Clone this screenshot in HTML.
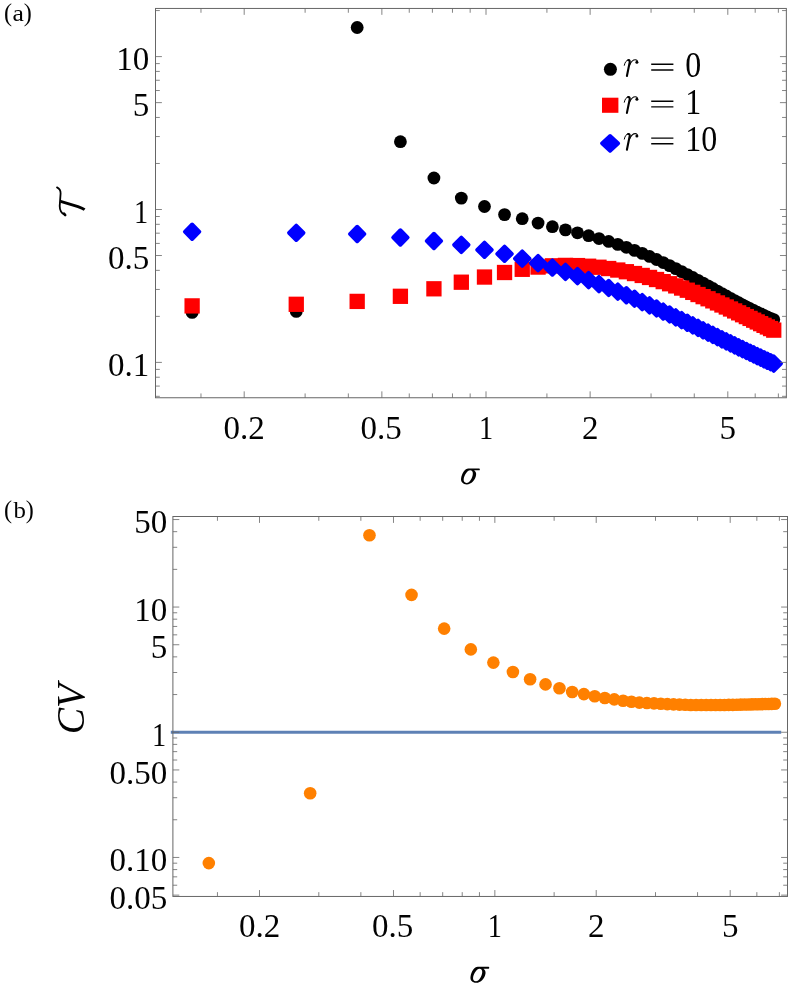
<!DOCTYPE html>
<html><head><meta charset="utf-8"><title>chart</title>
<style>html,body{margin:0;padding:0;background:#fff;overflow:hidden}svg{display:block;position:absolute;left:0;top:0}</style></head>
<body>
<svg width="789" height="992" viewBox="0 0 789 992">
<rect width="789" height="992" fill="#fff"/>
<g fill="#000">
<circle cx="192.12" cy="312.40" r="6.4"/>
<circle cx="296.26" cy="311.40" r="6.4"/>
<circle cx="357.18" cy="27.50" r="6.4"/>
<circle cx="400.40" cy="141.70" r="6.4"/>
<circle cx="433.93" cy="178.00" r="6.4"/>
<circle cx="461.32" cy="198.10" r="6.4"/>
<circle cx="484.48" cy="206.50" r="6.4"/>
<circle cx="504.54" cy="214.60" r="6.4"/>
<circle cx="522.24" cy="218.70" r="6.4"/>
<circle cx="538.07" cy="223.09" r="6.4"/>
<circle cx="552.39" cy="226.72" r="6.4"/>
<circle cx="565.46" cy="229.88" r="6.4"/>
<circle cx="577.49" cy="232.82" r="6.4"/>
<circle cx="588.62" cy="235.69" r="6.4"/>
<circle cx="598.99" cy="238.55" r="6.4"/>
<circle cx="608.69" cy="241.43" r="6.4"/>
<circle cx="617.79" cy="244.36" r="6.4"/>
<circle cx="626.38" cy="247.33" r="6.4"/>
<circle cx="634.51" cy="250.35" r="6.4"/>
<circle cx="642.21" cy="253.39" r="6.4"/>
<circle cx="649.54" cy="256.45" r="6.4"/>
<circle cx="656.53" cy="259.52" r="6.4"/>
<circle cx="663.21" cy="262.58" r="6.4"/>
<circle cx="669.60" cy="265.63" r="6.4"/>
<circle cx="675.74" cy="268.65" r="6.4"/>
<circle cx="681.63" cy="271.64" r="6.4"/>
<circle cx="687.30" cy="274.59" r="6.4"/>
<circle cx="692.76" cy="277.49" r="6.4"/>
<circle cx="698.04" cy="280.33" r="6.4"/>
<circle cx="703.13" cy="283.11" r="6.4"/>
<circle cx="708.06" cy="285.82" r="6.4"/>
<circle cx="712.83" cy="288.47" r="6.4"/>
<circle cx="717.45" cy="291.04" r="6.4"/>
<circle cx="721.94" cy="293.53" r="6.4"/>
<circle cx="726.29" cy="295.95" r="6.4"/>
<circle cx="730.52" cy="298.28" r="6.4"/>
<circle cx="734.64" cy="300.53" r="6.4"/>
<circle cx="738.65" cy="302.70" r="6.4"/>
<circle cx="742.55" cy="304.78" r="6.4"/>
<circle cx="746.35" cy="306.78" r="6.4"/>
<circle cx="750.06" cy="308.69" r="6.4"/>
<circle cx="753.68" cy="310.51" r="6.4"/>
<circle cx="757.22" cy="312.24" r="6.4"/>
<circle cx="760.67" cy="313.89" r="6.4"/>
<circle cx="764.05" cy="315.45" r="6.4"/>
<circle cx="767.35" cy="316.93" r="6.4"/>
<circle cx="770.58" cy="318.32" r="6.4"/>
<circle cx="773.75" cy="319.62" r="6.4"/>
</g><g fill="#f00">
<rect x="184.47" y="298.25" width="15.3" height="15.3"/>
<rect x="288.61" y="296.65" width="15.3" height="15.3"/>
<rect x="349.53" y="293.75" width="15.3" height="15.3"/>
<rect x="392.75" y="288.65" width="15.3" height="15.3"/>
<rect x="426.28" y="281.15" width="15.3" height="15.3"/>
<rect x="453.67" y="274.55" width="15.3" height="15.3"/>
<rect x="476.83" y="269.40" width="15.3" height="15.3"/>
<rect x="496.89" y="264.85" width="15.3" height="15.3"/>
<rect x="514.59" y="261.65" width="15.3" height="15.3"/>
<rect x="530.42" y="259.42" width="15.3" height="15.3"/>
<rect x="544.74" y="258.18" width="15.3" height="15.3"/>
<rect x="557.81" y="257.75" width="15.3" height="15.3"/>
<rect x="569.84" y="257.93" width="15.3" height="15.3"/>
<rect x="580.97" y="258.58" width="15.3" height="15.3"/>
<rect x="591.34" y="259.59" width="15.3" height="15.3"/>
<rect x="601.04" y="260.88" width="15.3" height="15.3"/>
<rect x="610.14" y="262.39" width="15.3" height="15.3"/>
<rect x="618.73" y="264.07" width="15.3" height="15.3"/>
<rect x="626.86" y="265.89" width="15.3" height="15.3"/>
<rect x="634.56" y="267.81" width="15.3" height="15.3"/>
<rect x="641.89" y="269.80" width="15.3" height="15.3"/>
<rect x="648.88" y="271.86" width="15.3" height="15.3"/>
<rect x="655.56" y="273.96" width="15.3" height="15.3"/>
<rect x="661.95" y="276.09" width="15.3" height="15.3"/>
<rect x="668.09" y="278.24" width="15.3" height="15.3"/>
<rect x="673.98" y="280.40" width="15.3" height="15.3"/>
<rect x="679.65" y="282.56" width="15.3" height="15.3"/>
<rect x="685.11" y="284.72" width="15.3" height="15.3"/>
<rect x="690.39" y="286.87" width="15.3" height="15.3"/>
<rect x="695.48" y="289.00" width="15.3" height="15.3"/>
<rect x="700.41" y="291.11" width="15.3" height="15.3"/>
<rect x="705.18" y="293.21" width="15.3" height="15.3"/>
<rect x="709.80" y="295.28" width="15.3" height="15.3"/>
<rect x="714.29" y="297.32" width="15.3" height="15.3"/>
<rect x="718.64" y="299.33" width="15.3" height="15.3"/>
<rect x="722.87" y="301.32" width="15.3" height="15.3"/>
<rect x="726.99" y="303.27" width="15.3" height="15.3"/>
<rect x="731.00" y="305.19" width="15.3" height="15.3"/>
<rect x="734.90" y="307.08" width="15.3" height="15.3"/>
<rect x="738.70" y="308.93" width="15.3" height="15.3"/>
<rect x="742.41" y="310.75" width="15.3" height="15.3"/>
<rect x="746.03" y="312.54" width="15.3" height="15.3"/>
<rect x="749.57" y="314.29" width="15.3" height="15.3"/>
<rect x="753.02" y="316.00" width="15.3" height="15.3"/>
<rect x="756.40" y="317.68" width="15.3" height="15.3"/>
<rect x="759.70" y="319.32" width="15.3" height="15.3"/>
<rect x="762.93" y="320.92" width="15.3" height="15.3"/>
<rect x="766.10" y="322.49" width="15.3" height="15.3"/>
</g><g fill="#00f" stroke="#00f" stroke-width="3.8" stroke-linejoin="round">
<path d="M192.12 224.45l7.3 7.3l-7.3 7.3l-7.3 -7.3z"/>
<path d="M296.26 225.50l7.3 7.3l-7.3 7.3l-7.3 -7.3z"/>
<path d="M357.18 226.70l7.3 7.3l-7.3 7.3l-7.3 -7.3z"/>
<path d="M400.40 230.20l7.3 7.3l-7.3 7.3l-7.3 -7.3z"/>
<path d="M433.93 233.70l7.3 7.3l-7.3 7.3l-7.3 -7.3z"/>
<path d="M461.32 237.60l7.3 7.3l-7.3 7.3l-7.3 -7.3z"/>
<path d="M484.48 242.50l7.3 7.3l-7.3 7.3l-7.3 -7.3z"/>
<path d="M504.54 246.50l7.3 7.3l-7.3 7.3l-7.3 -7.3z"/>
<path d="M522.24 251.30l7.3 7.3l-7.3 7.3l-7.3 -7.3z"/>
<path d="M538.07 255.78l7.3 7.3l-7.3 7.3l-7.3 -7.3z"/>
<path d="M552.39 260.25l7.3 7.3l-7.3 7.3l-7.3 -7.3z"/>
<path d="M565.46 264.59l7.3 7.3l-7.3 7.3l-7.3 -7.3z"/>
<path d="M577.49 268.80l7.3 7.3l-7.3 7.3l-7.3 -7.3z"/>
<path d="M588.62 272.88l7.3 7.3l-7.3 7.3l-7.3 -7.3z"/>
<path d="M598.99 276.84l7.3 7.3l-7.3 7.3l-7.3 -7.3z"/>
<path d="M608.69 280.67l7.3 7.3l-7.3 7.3l-7.3 -7.3z"/>
<path d="M617.79 284.38l7.3 7.3l-7.3 7.3l-7.3 -7.3z"/>
<path d="M626.38 287.96l7.3 7.3l-7.3 7.3l-7.3 -7.3z"/>
<path d="M634.51 291.43l7.3 7.3l-7.3 7.3l-7.3 -7.3z"/>
<path d="M642.21 294.79l7.3 7.3l-7.3 7.3l-7.3 -7.3z"/>
<path d="M649.54 298.04l7.3 7.3l-7.3 7.3l-7.3 -7.3z"/>
<path d="M656.53 301.18l7.3 7.3l-7.3 7.3l-7.3 -7.3z"/>
<path d="M663.21 304.22l7.3 7.3l-7.3 7.3l-7.3 -7.3z"/>
<path d="M669.60 307.17l7.3 7.3l-7.3 7.3l-7.3 -7.3z"/>
<path d="M675.74 310.02l7.3 7.3l-7.3 7.3l-7.3 -7.3z"/>
<path d="M681.63 312.78l7.3 7.3l-7.3 7.3l-7.3 -7.3z"/>
<path d="M687.30 315.46l7.3 7.3l-7.3 7.3l-7.3 -7.3z"/>
<path d="M692.76 318.05l7.3 7.3l-7.3 7.3l-7.3 -7.3z"/>
<path d="M698.04 320.56l7.3 7.3l-7.3 7.3l-7.3 -7.3z"/>
<path d="M703.13 322.99l7.3 7.3l-7.3 7.3l-7.3 -7.3z"/>
<path d="M708.06 325.35l7.3 7.3l-7.3 7.3l-7.3 -7.3z"/>
<path d="M712.83 327.64l7.3 7.3l-7.3 7.3l-7.3 -7.3z"/>
<path d="M717.45 329.86l7.3 7.3l-7.3 7.3l-7.3 -7.3z"/>
<path d="M721.94 332.02l7.3 7.3l-7.3 7.3l-7.3 -7.3z"/>
<path d="M726.29 334.11l7.3 7.3l-7.3 7.3l-7.3 -7.3z"/>
<path d="M730.52 336.14l7.3 7.3l-7.3 7.3l-7.3 -7.3z"/>
<path d="M734.64 338.11l7.3 7.3l-7.3 7.3l-7.3 -7.3z"/>
<path d="M738.65 340.02l7.3 7.3l-7.3 7.3l-7.3 -7.3z"/>
<path d="M742.55 341.87l7.3 7.3l-7.3 7.3l-7.3 -7.3z"/>
<path d="M746.35 343.68l7.3 7.3l-7.3 7.3l-7.3 -7.3z"/>
<path d="M750.06 345.43l7.3 7.3l-7.3 7.3l-7.3 -7.3z"/>
<path d="M753.68 347.13l7.3 7.3l-7.3 7.3l-7.3 -7.3z"/>
<path d="M757.22 348.78l7.3 7.3l-7.3 7.3l-7.3 -7.3z"/>
<path d="M760.67 350.38l7.3 7.3l-7.3 7.3l-7.3 -7.3z"/>
<path d="M764.05 351.94l7.3 7.3l-7.3 7.3l-7.3 -7.3z"/>
<path d="M767.35 353.46l7.3 7.3l-7.3 7.3l-7.3 -7.3z"/>
<path d="M770.58 354.93l7.3 7.3l-7.3 7.3l-7.3 -7.3z"/>
<path d="M773.75 356.36l7.3 7.3l-7.3 7.3l-7.3 -7.3z"/>
</g>
<path d="M170.8 732.25H781.2" stroke="#5e81b5" stroke-width="3.2" fill="none"/>
<g fill="#ff8000">
<circle cx="208.83" cy="863.10" r="6.3"/>
<circle cx="310.18" cy="793.20" r="6.3"/>
<circle cx="369.47" cy="535.30" r="6.3"/>
<circle cx="411.54" cy="594.90" r="6.3"/>
<circle cx="444.17" cy="628.60" r="6.3"/>
<circle cx="470.83" cy="649.40" r="6.3"/>
<circle cx="493.37" cy="662.60" r="6.3"/>
<circle cx="512.90" cy="672.05" r="6.3"/>
<circle cx="530.12" cy="679.25" r="6.3"/>
<circle cx="545.53" cy="684.40" r="6.3"/>
<circle cx="559.46" cy="688.30" r="6.3"/>
<circle cx="572.19" cy="692.00" r="6.3"/>
<circle cx="583.89" cy="694.10" r="6.3"/>
<circle cx="594.73" cy="696.20" r="6.3"/>
<circle cx="604.82" cy="698.00" r="6.3"/>
<circle cx="614.26" cy="699.40" r="6.3"/>
<circle cx="623.12" cy="700.70" r="6.3"/>
<circle cx="631.48" cy="701.70" r="6.3"/>
<circle cx="639.38" cy="702.60" r="6.3"/>
<circle cx="646.88" cy="703.00" r="6.3"/>
<circle cx="654.02" cy="703.40" r="6.3"/>
<circle cx="660.82" cy="703.80" r="6.3"/>
<circle cx="667.32" cy="704.10" r="6.3"/>
<circle cx="673.55" cy="704.40" r="6.3"/>
<circle cx="679.51" cy="704.60" r="6.3"/>
<circle cx="685.25" cy="704.80" r="6.3"/>
<circle cx="690.77" cy="705.00" r="6.3"/>
<circle cx="696.09" cy="705.00" r="6.3"/>
<circle cx="701.22" cy="705.00" r="6.3"/>
<circle cx="706.17" cy="705.00" r="6.3"/>
<circle cx="710.97" cy="705.00" r="6.3"/>
<circle cx="715.61" cy="705.00" r="6.3"/>
<circle cx="720.11" cy="705.00" r="6.3"/>
<circle cx="724.48" cy="705.00" r="6.3"/>
<circle cx="728.72" cy="704.91" r="6.3"/>
<circle cx="732.84" cy="704.83" r="6.3"/>
<circle cx="736.84" cy="704.74" r="6.3"/>
<circle cx="740.74" cy="704.66" r="6.3"/>
<circle cx="744.54" cy="704.57" r="6.3"/>
<circle cx="748.24" cy="704.49" r="6.3"/>
<circle cx="751.85" cy="704.40" r="6.3"/>
<circle cx="755.38" cy="704.31" r="6.3"/>
<circle cx="758.82" cy="704.23" r="6.3"/>
<circle cx="762.18" cy="704.14" r="6.3"/>
<circle cx="765.46" cy="704.06" r="6.3"/>
<circle cx="768.68" cy="703.97" r="6.3"/>
<circle cx="771.82" cy="703.89" r="6.3"/>
<circle cx="774.90" cy="703.80" r="6.3"/>
</g>
<path d="M244.19 397.75v-6.4M244.19 8.45v6.4M381.86 397.75v-6.4M381.86 8.45v6.4M486.00 397.75v-6.4M486.00 8.45v6.4M590.14 397.75v-6.4M590.14 8.45v6.4M727.81 397.75v-6.4M727.81 8.45v6.4M200.97 397.75v-4.3M200.97 8.45v4.3M305.11 397.75v-4.3M305.11 8.45v4.3M348.33 397.75v-4.3M348.33 8.45v4.3M409.25 397.75v-4.3M409.25 8.45v4.3M432.41 397.75v-4.3M432.41 8.45v4.3M452.47 397.75v-4.3M452.47 8.45v4.3M470.17 397.75v-4.3M470.17 8.45v4.3M546.92 397.75v-4.3M546.92 8.45v4.3M651.06 397.75v-4.3M651.06 8.45v4.3M694.28 397.75v-4.3M694.28 8.45v4.3M755.20 397.75v-4.3M755.20 8.45v4.3M778.36 397.75v-4.3M778.36 8.45v4.3M155.50 362.40h6.4M786.35 362.40h-6.4M155.50 255.53h6.4M786.35 255.53h-6.4M155.50 209.50h6.4M786.35 209.50h-6.4M155.50 102.63h6.4M786.35 102.63h-6.4M155.50 56.60h6.4M786.35 56.60h-6.4M155.50 396.32h4.3M786.35 396.32h-4.3M155.50 386.08h4.3M786.35 386.08h-4.3M155.50 377.22h4.3M786.35 377.22h-4.3M155.50 369.40h4.3M786.35 369.40h-4.3M155.50 316.37h4.3M786.35 316.37h-4.3M155.50 289.45h4.3M786.35 289.45h-4.3M155.50 270.35h4.3M786.35 270.35h-4.3M155.50 243.42h4.3M786.35 243.42h-4.3M155.50 233.18h4.3M786.35 233.18h-4.3M155.50 224.32h4.3M786.35 224.32h-4.3M155.50 216.50h4.3M786.35 216.50h-4.3M155.50 163.47h4.3M786.35 163.47h-4.3M155.50 136.55h4.3M786.35 136.55h-4.3M155.50 117.45h4.3M786.35 117.45h-4.3M155.50 90.52h4.3M786.35 90.52h-4.3M155.50 80.28h4.3M786.35 80.28h-4.3M155.50 71.42h4.3M786.35 71.42h-4.3M155.50 63.60h4.3M786.35 63.60h-4.3M155.50 10.57h4.3M786.35 10.57h-4.3" stroke="#666" stroke-width="0.8" fill="none"/>
<rect x="155.5" y="8.45" width="630.85" height="389.30" fill="none" stroke="#666" stroke-width="1"/>
<path d="M259.51 896.45v-6.4M259.51 516.50v6.4M393.49 896.45v-6.4M393.49 516.50v6.4M494.85 896.45v-6.4M494.85 516.50v6.4M596.21 896.45v-6.4M596.21 516.50v6.4M730.19 896.45v-6.4M730.19 516.50v6.4M217.44 896.45v-4.3M217.44 516.50v4.3M318.80 896.45v-4.3M318.80 516.50v4.3M360.86 896.45v-4.3M360.86 516.50v4.3M420.15 896.45v-4.3M420.15 516.50v4.3M442.69 896.45v-4.3M442.69 516.50v4.3M462.22 896.45v-4.3M462.22 516.50v4.3M479.44 896.45v-4.3M479.44 516.50v4.3M554.14 896.45v-4.3M554.14 516.50v4.3M655.50 896.45v-4.3M655.50 516.50v4.3M697.56 896.45v-4.3M697.56 516.50v4.3M756.85 896.45v-4.3M756.85 516.50v4.3M779.39 896.45v-4.3M779.39 516.50v4.3M172.90 895.14h6.4M787.50 895.14h-6.4M172.90 857.45h6.4M787.50 857.45h-6.4M172.90 769.94h6.4M787.50 769.94h-6.4M172.90 732.25h6.4M787.50 732.25h-6.4M172.90 644.74h6.4M787.50 644.74h-6.4M172.90 607.05h6.4M787.50 607.05h-6.4M172.90 519.54h6.4M787.50 519.54h-6.4M172.90 885.23h4.3M787.50 885.23h-4.3M172.90 876.84h4.3M787.50 876.84h-4.3M172.90 869.58h4.3M787.50 869.58h-4.3M172.90 863.18h4.3M787.50 863.18h-4.3M172.90 819.76h4.3M787.50 819.76h-4.3M172.90 797.71h4.3M787.50 797.71h-4.3M172.90 782.07h4.3M787.50 782.07h-4.3M172.90 760.03h4.3M787.50 760.03h-4.3M172.90 751.64h4.3M787.50 751.64h-4.3M172.90 744.38h4.3M787.50 744.38h-4.3M172.90 737.98h4.3M787.50 737.98h-4.3M172.90 694.56h4.3M787.50 694.56h-4.3M172.90 672.51h4.3M787.50 672.51h-4.3M172.90 656.87h4.3M787.50 656.87h-4.3M172.90 634.83h4.3M787.50 634.83h-4.3M172.90 626.44h4.3M787.50 626.44h-4.3M172.90 619.18h4.3M787.50 619.18h-4.3M172.90 612.78h4.3M787.50 612.78h-4.3M172.90 569.36h4.3M787.50 569.36h-4.3M172.90 547.31h4.3M787.50 547.31h-4.3M172.90 531.67h4.3M787.50 531.67h-4.3" stroke="#666" stroke-width="0.8" fill="none"/>
<rect x="172.9" y="516.5" width="614.60" height="379.95" fill="none" stroke="#666" stroke-width="1"/>
<g font-family="'Liberation Serif', serif" fill="#000" opacity="0.995">
<text x="149.20" y="70.20" text-anchor="end" font-size="33" >10</text>
<text x="149.20" y="116.23" text-anchor="end" font-size="33" >5</text>
<text transform="translate(148.20 223.10) scale(0.86 1)" text-anchor="end" font-size="33" >1</text>
<text x="149.20" y="269.13" text-anchor="end" font-size="33" >0.5</text>
<text x="149.20" y="376.00" text-anchor="end" font-size="33" >0.1</text>
<text x="167.30" y="533.14" text-anchor="end" font-size="33" >50</text>
<text x="167.30" y="620.65" text-anchor="end" font-size="33" >10</text>
<text x="167.30" y="658.34" text-anchor="end" font-size="33" >5</text>
<text transform="translate(166.30 745.85) scale(0.86 1)" text-anchor="end" font-size="33" >1</text>
<text x="167.30" y="783.54" text-anchor="end" font-size="33" >0.50</text>
<text x="167.30" y="871.05" text-anchor="end" font-size="33" >0.10</text>
<text x="167.30" y="908.74" text-anchor="end" font-size="33" >0.05</text>
<text x="244.19" y="438.60" text-anchor="middle" font-size="33" >0.2</text>
<text x="259.51" y="937.10" text-anchor="middle" font-size="33" >0.2</text>
<text x="381.06" y="438.60" text-anchor="middle" font-size="33" >0.5</text>
<text x="392.69" y="937.10" text-anchor="middle" font-size="33" >0.5</text>
<text transform="translate(486.00 438.60) scale(0.86 1)" text-anchor="middle" font-size="33" >1</text>
<text transform="translate(494.85 937.10) scale(0.86 1)" text-anchor="middle" font-size="33" >1</text>
<text x="590.14" y="438.60" text-anchor="middle" font-size="33" >2</text>
<text x="596.21" y="937.10" text-anchor="middle" font-size="33" >2</text>
<text x="727.81" y="438.60" text-anchor="middle" font-size="33" >5</text>
<text x="730.19" y="937.10" text-anchor="middle" font-size="33" >5</text>
<text x="4.0" y="20.60" font-size="24.2">(</text>
<text transform="translate(12.5 20.5) scale(1.12 1)" font-size="23">a</text>
<text x="23.75" y="20.60" font-size="24.2">)</text>
<text x="4.0" y="517.70" font-size="24.2">(</text>
<text transform="translate(13.5 517.6) scale(1.08 1)" font-size="23">b</text>
<text x="25.65" y="517.70" font-size="24.2">)</text>
<g transform="translate(468.2 477.1)"><path fill-rule="evenodd" d="M0.2 -8.7 L10.9 -8.7 C11.9 -8.7 11.9 -6.75 10.9 -6.75 L5.9 -6.75 C7.4 -5.6 8.2 -3.9 7.9 -2.1 C7.3 2.6 3.2 7.3 -1.4 7.3 C-5.4 7.3 -7.6 4.6 -7.1 1.2 C-6.4 -3.8 -3.2 -8.7 0.2 -8.7 Z M1.8 -6.8 C-0.8 -6.6 -3.9 -2.2 -4.5 2.0 C-4.9 4.4 -3.7 5.85 -1.6 5.85 C1.4 5.85 4.2 1.0 4.6 -2.9 C4.9 -5.4 3.6 -6.9 1.8 -6.8 Z"/></g>
<g transform="translate(477.6 975.5)"><path fill-rule="evenodd" d="M0.2 -8.7 L10.9 -8.7 C11.9 -8.7 11.9 -6.75 10.9 -6.75 L5.9 -6.75 C7.4 -5.6 8.2 -3.9 7.9 -2.1 C7.3 2.6 3.2 7.3 -1.4 7.3 C-5.4 7.3 -7.6 4.6 -7.1 1.2 C-6.4 -3.8 -3.2 -8.7 0.2 -8.7 Z M1.8 -6.8 C-0.8 -6.6 -3.9 -2.2 -4.5 2.0 C-4.9 4.4 -3.7 5.85 -1.6 5.85 C1.4 5.85 4.2 1.0 4.6 -2.9 C4.9 -5.4 3.6 -6.9 1.8 -6.8 Z"/></g>
<text transform="translate(84.2 709.0) rotate(-90)" text-anchor="middle" font-size="39.5" font-style="italic">CV</text>
<g transform="translate(0 0.00)" fill="none" stroke="#000" stroke-linecap="round"><path d="M624.3 65.3C624.9 62.2 626.5 60.0 628.2 60.0" stroke-width="1.0"/><path d="M628.2 60.2C629.6 60.0 630.0 61.1 629.6 62.8L626.9 76.0" stroke-width="2.1"/><path d="M629.7 65.0C631.1 61.6 633.4 59.8 635.3 59.8C636.8 59.8 637.6 60.8 637.4 62.0" stroke-width="1.1"/><circle cx="636.9" cy="62.3" r="1.5" fill="#000" stroke="none"/></g>
<path d="M651.2 64.30h22.2M651.2 70.00h22.2" stroke="#000" stroke-width="1.4"/>
<text transform="translate(685.2 76.90) scale(0.9 1)" font-size="35.5">0</text>
<g transform="translate(0 36.90)" fill="none" stroke="#000" stroke-linecap="round"><path d="M624.3 65.3C624.9 62.2 626.5 60.0 628.2 60.0" stroke-width="1.0"/><path d="M628.2 60.2C629.6 60.0 630.0 61.1 629.6 62.8L626.9 76.0" stroke-width="2.1"/><path d="M629.7 65.0C631.1 61.6 633.4 59.8 635.3 59.8C636.8 59.8 637.6 60.8 637.4 62.0" stroke-width="1.1"/><circle cx="636.9" cy="62.3" r="1.5" fill="#000" stroke="none"/></g>
<path d="M651.2 101.20h22.2M651.2 106.90h22.2" stroke="#000" stroke-width="1.4"/>
<text transform="translate(685.2 113.80) scale(0.9 1)" font-size="35.5">1</text>
<g transform="translate(0 73.80)" fill="none" stroke="#000" stroke-linecap="round"><path d="M624.3 65.3C624.9 62.2 626.5 60.0 628.2 60.0" stroke-width="1.0"/><path d="M628.2 60.2C629.6 60.0 630.0 61.1 629.6 62.8L626.9 76.0" stroke-width="2.1"/><path d="M629.7 65.0C631.1 61.6 633.4 59.8 635.3 59.8C636.8 59.8 637.6 60.8 637.4 62.0" stroke-width="1.1"/><circle cx="636.9" cy="62.3" r="1.5" fill="#000" stroke="none"/></g>
<path d="M651.2 138.10h22.2M651.2 143.80h22.2" stroke="#000" stroke-width="1.4"/>
<text transform="translate(685.2 150.70) scale(0.9 1)" font-size="35.5">10</text>
</g>
<circle cx="610.4" cy="69.3" r="6.5" fill="#000"/>
<rect x="602.0" y="97.7" width="16.4" height="15.1" fill="#f00"/>
<path d="M610.1 136.0l8.1 7.4l-8.1 7.4l-8.1 -7.4z" fill="#00f" stroke="#00f" stroke-width="3.8" stroke-linejoin="round"/>
<g fill="none" stroke="#000" stroke-linecap="round">
<path d="M57.0 187.4C59.6 188.6 60.7 190.4 60.6 193.5L59.7 206.0C59.7 210.6 61.6 213.6 65.0 215.0" stroke-width="1.8"/>
<path d="M64.0 213.6L65.2 215.0" stroke-width="2.6"/>
<path d="M60.6 201.4L78 206.6C81 207.6 83.2 208.6 84.6 209.7" stroke-width="2.8" stroke-linecap="butt"/>
</g>
</svg>
</body></html>
